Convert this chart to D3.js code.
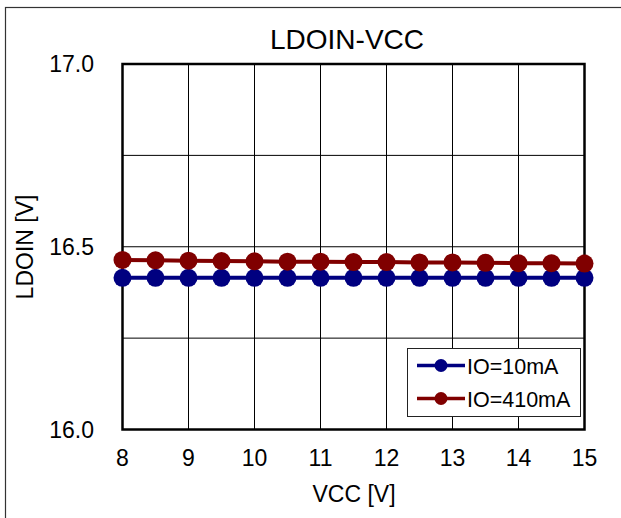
<!DOCTYPE html>
<html>
<head>
<meta charset="utf-8">
<script src="https://cdn.jsdelivr.net/npm/d3@7"></script>
<style>
  html, body { margin: 0; padding: 0; background: #fff; }
  svg { display: block; font-family: "Liberation Sans", Arial, sans-serif; }
</style>
</head>
<body>
<svg id="chart" width="621" height="518"></svg>
<script>
// Supply voltage sweep (V)
const vcc = [8, 8.5, 9, 9.5, 10, 10.5, 11, 11.5, 12, 12.5, 13, 13.5, 14, 14.5, 15];
// LDOIN output (V) at each load current
const io10mA  = [16.415, 16.415, 16.415, 16.415, 16.415, 16.415, 16.415, 16.415, 16.415, 16.415, 16.415, 16.415, 16.415, 16.415, 16.415];
const io410mA = [16.464, 16.463, 16.462, 16.461, 16.460, 16.459, 16.459, 16.458, 16.458, 16.457, 16.457, 16.456, 16.455, 16.455, 16.454];
const seriesNames = ["IO=10mA", "IO=410mA"];
const seriesColors = ["#000080", "#800000"];
const xTicks = [8, 9, 10, 11, 12, 13, 14, 15];
const yTicks = [16.0, 16.5, 17.0];
const yGrid = [16.25, 16.5, 16.75];

const svg = d3.select("#chart");
const plotL = 122.5, plotR = 584.5, plotT = 64, plotB = 429.5;

const x = d3.scaleLinear().domain([8, 15]).range([plotL, plotR]);
const y = d3.scaleLinear().domain([16, 17]).range([plotB, plotT]);

// outer frame
svg.append("rect")
  .attr("x", 5.5).attr("y", 7.5).attr("width", 640).attr("height", 540)
  .attr("fill", "none").attr("stroke", "#333").attr("stroke-width", 1.2);

// grid
const grid = svg.append("g").attr("stroke", "#000").attr("stroke-width", 1);
grid.selectAll("line.v").data(xTicks.slice(1, -1)).join("line")
  .attr("x1", d => x(d)).attr("x2", d => x(d))
  .attr("y1", plotT).attr("y2", plotB);
grid.selectAll("line.h").data(yGrid).join("line")
  .attr("x1", plotL).attr("x2", plotR)
  .attr("y1", d => y(d)).attr("y2", d => y(d));

// plot border
svg.append("rect")
  .attr("x", plotL).attr("y", plotT)
  .attr("width", plotR - plotL).attr("height", plotB - plotT)
  .attr("fill", "none").attr("stroke", "#000").attr("stroke-width", 2.5);

// axes tick labels
svg.append("g").selectAll("text").data(xTicks).join("text")
  .attr("x", d => x(d)).attr("y", 465.5)
  .attr("text-anchor", "middle").attr("font-size", 23)
  .text(d => d);
svg.append("g").selectAll("text").data(yTicks).join("text")
  .attr("x", 94).attr("y", d => y(d) + 8)
  .attr("text-anchor", "end").attr("font-size", 23)
  .text(d => d.toFixed(1));

// titles
svg.append("text").attr("x", 347).attr("y", 48.5)
  .attr("text-anchor", "middle").attr("font-size", 28).text("LDOIN-VCC");
svg.append("text").attr("x", 354).attr("y", 502)
  .attr("text-anchor", "middle").attr("font-size", 23).text("VCC [V]");
svg.append("text")
  .attr("transform", "translate(33,247) rotate(-90)")
  .attr("text-anchor", "middle").attr("font-size", 23).text("LDOIN [V]");

// series
const series = [io10mA, io410mA];
const line = d3.line().x((d, i) => x(vcc[i])).y(d => y(d));
series.forEach((vals, k) => {
  const g = svg.append("g");
  g.append("path").datum(vals)
    .attr("d", line).attr("fill", "none")
    .attr("stroke", seriesColors[k]).attr("stroke-width", 4);
  g.selectAll("circle").data(vals).join("circle")
    .attr("cx", (d, i) => x(vcc[i])).attr("cy", d => y(d))
    .attr("r", 9).attr("fill", seriesColors[k]);
});

// legend
const lg = svg.append("g");
lg.append("rect")
  .attr("x", 407.5).attr("y", 348.5).attr("width", 173).attr("height", 68)
  .attr("fill", "#fff").attr("stroke", "#222").attr("stroke-width", 1);
seriesNames.forEach((name, k) => {
  const cy = k === 0 ? 365.5 : 398.5;
  lg.append("line").attr("x1", 417).attr("x2", 465).attr("y1", cy).attr("y2", cy)
    .attr("stroke", seriesColors[k]).attr("stroke-width", 3.5);
  lg.append("circle").attr("cx", 441).attr("cy", cy).attr("r", 6.5)
    .attr("fill", seriesColors[k]);
  lg.append("text").attr("x", 467).attr("y", cy + 8.5)
    .attr("font-size", 21.5).text(name);
});
</script>
</body>
</html>
